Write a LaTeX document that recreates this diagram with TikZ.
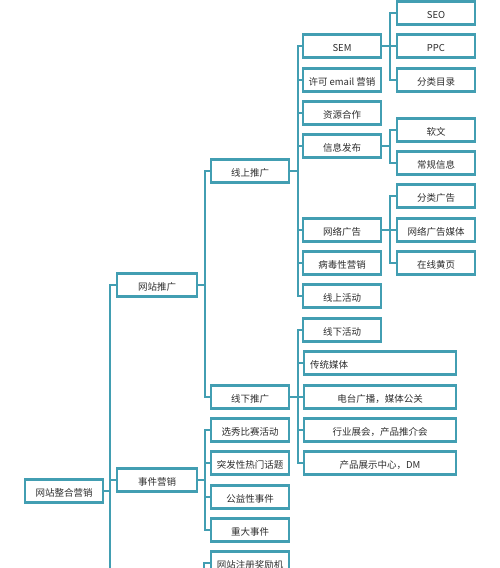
\documentclass[tikz,border=0pt]{standalone}
\usepackage{fontspec}
\setmainfont{Noto Sans CJK SC}
\usetikzlibrary{calc}
\definecolor{lnc}{RGB}{66,158,178}
\definecolor{txc}{RGB}{45,45,45}
\begin{document}
\begin{tikzpicture}[x=1pt,y=-1pt,
  bx/.style={draw=lnc,line width=2.2pt,minimum width=78pt,minimum height=23pt,inner sep=0pt,
    text height=12.5pt,text depth=1pt,text=txc,font=\fontsize{9.5}{10}\selectfont},
  wbx/.style={bx,minimum width=152pt},
  lbx/.style={bx,text width=140pt,inner xsep=6pt,align=left},
  ln/.style={draw=lnc,line width=2pt}]
\useasboundingbox (0,0) rectangle (500,568);
% column 1
\node[bx] (A) at (64,491) {网站整合营销};
% column 2
\node[bx,minimum width=80pt] (B1) at (157,285) {网站推广};
\node[bx,minimum width=80pt] (B2) at (157,480) {事件营销};
% column 3
\node[bx] (C1) at (250,171) {线上推广};
\node[bx] (C2) at (250,397) {线下推广};
\node[bx] (E1) at (250,430) {选秀比赛活动};
\node[bx] (E2) at (250,463) {突发性热门话题};
\node[bx] (E3) at (250,497) {公益性事件};
\node[bx] (E4) at (250,530) {重大事件};
\node[bx] (F1) at (250,563) {网站注册奖励机};
% column 4
\node[bx] (D1) at (342,46) {SEM};
\node[bx] (D2) at (342,80) {许可 email 营销};
\node[bx] (D3) at (342,113) {资源合作};
\node[bx] (D4) at (342,146) {信息发布};
\node[bx] (D5) at (342,230) {网络广告};
\node[bx] (D6) at (342,263) {病毒性营销};
\node[bx] (D7) at (342,296) {线上活动};
\node[bx] (G1) at (342,330) {线下活动};
\node[lbx] (G2) at (380,363) {传统媒体};
\node[wbx] (G3) at (380,397) {电台广播，媒体公关};
\node[wbx] (G4) at (380,430) {行业展会，产品推介会};
\node[wbx] (G5) at (380,463) {产品展示中心，DM};
% column 5
\node[bx] (H1) at (436,13) {SEO};
\node[bx] (H2) at (436,46) {PPC};
\node[bx] (H3) at (436,80) {分类目录};
\node[bx] (H4) at (436,130) {软文};
\node[bx] (H5) at (436,163) {常规信息};
\node[bx] (H6) at (436,196) {分类广告};
\node[bx] (H7) at (436,230) {网络广告媒体};
\node[bx] (H8) at (436,263) {在线黄页};
% hidden continuations below the frame
\coordinate (low1) at (110,600);
\coordinate (low2) at (204,600);
% connectors
\draw[ln] (A.east) -- +(7,0);
\draw[ln] (B1.west) -| (low1);
\draw[ln] (B2.west) -- +(-7,0);
\foreach \c in {C1,C2} \draw[ln] (B1.east) -- +(6.5,0) |- (\c.west);
\foreach \c in {E1,E2,E3,E4} \draw[ln] (B2.east) -- +(7,0) |- (\c.west);
\draw[ln] (F1.west) -| (low2);
\foreach \c in {D1,D2,D3,D4,D5,D6,D7} \draw[ln] (C1.east) -- +(8,0) |- (\c.west);
\foreach \c in {G1,G2,G3,G4,G5} \draw[ln] (C2.east) -- +(8,0) |- (\c.west);
\foreach \c in {H1,H2,H3} \draw[ln] (D1.east) -- +(8,0) |- (\c.west);
\foreach \c in {H4,H5} \draw[ln] (D4.east) -- +(8,0) |- (\c.west);
\foreach \c in {H6,H7,H8} \draw[ln] (D5.east) -- +(8,0) |- (\c.west);
\end{tikzpicture}
\end{document}
